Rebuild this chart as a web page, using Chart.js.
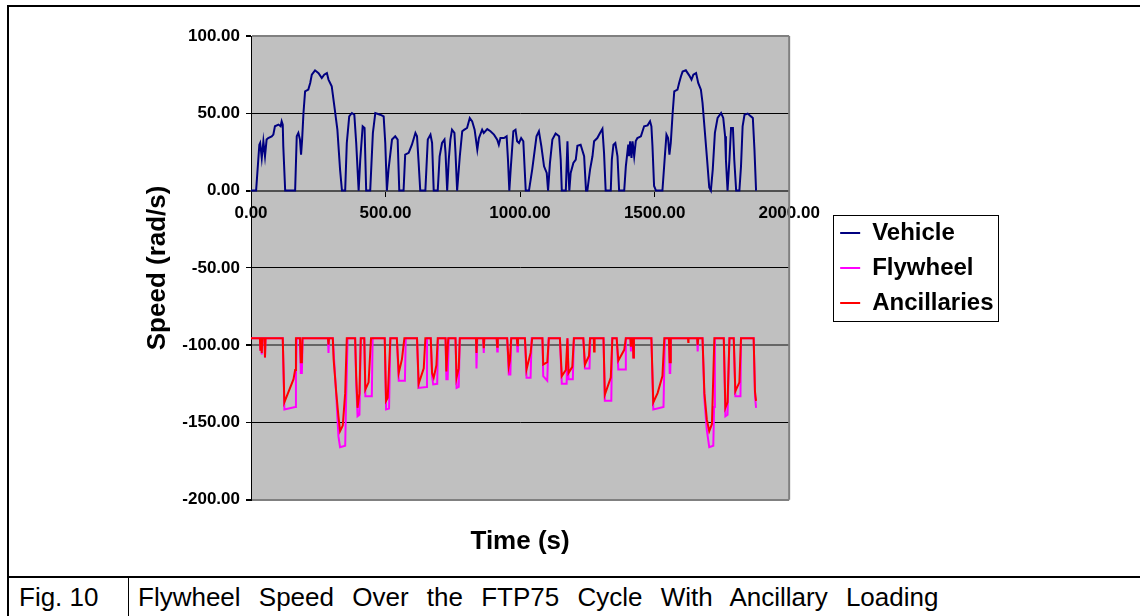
<!DOCTYPE html>
<html>
<head>
<meta charset="utf-8">
<script src="https://cdn.jsdelivr.net/npm/chart.js@4/dist/chart.umd.min.js"></script>
<style>
body{margin:0;width:1140px;height:616px;overflow:hidden;background:#fff;font-family:"Liberation Sans",Arial,sans-serif;position:relative}
#frame{position:absolute;left:7px;top:5px;width:1140px;height:620px;border-left:2px solid #000;border-top:2px solid #000}
#capline{position:absolute;left:7px;top:576px;width:1140px;border-top:2px solid #000}
#capdiv{position:absolute;left:128px;top:577px;height:40px;border-left:1px solid #000}
.cap{position:absolute;top:582px;line-height:30px;font-size:26px;color:#000;white-space:nowrap}
#chart{position:absolute;left:0;top:0}
</style>
</head>
<body>
<div id="frame"></div>
<div id="capline"></div>
<div id="capdiv"></div>
<div class="cap" style="left:19px">Fig. 10</div>
<div class="cap" style="left:138px;word-spacing:11px">Flywheel Speed Over the FTP75 Cycle With Ancillary Loading</div>
<canvas id="chart" width="1140" height="577"></canvas>
<script>
// [time s, speed rad/s]
var vehicle = [[0,0],[19,0],[31,29.7],[34,30.8],[40,21.1],[46,31.9],[52,22.2],[58,33],[64,34],[77,35.1],[83,36.2],[89,41.6],[102,42.7],[110,41.6],[114,44.8],[118,42.7],[120,28.7],[127,0],
  [164,0],[170,35.1],[176,37.3],[182,33],[186,23.3],[190,33],[195,50.2],[201,64.2],[213,65.3],[220,69.6],[226,75],[238,77.8],[251,76],[263,72.8],[272,75],[282,76],[288,71.8],[300,67.5],[313,50.2],[321,39.4],[331,13.6],[338,0],
  [350,0],[356,30.8],[365,48],[375,50.2],[384,49.1],[391,30.8],[400,0],[406,20],[415,41.6],[422,40.5],[428,0],[443,0],[453,37.3],[462,50.2],[480,49.1],[493,48],[499,30.8],[505,0],
  [511,13.6],[524,33],[536,35.1],[545,33],[551,0],[567,0],[573,23.3],[586,24.4],[598,29.7],[611,37.3],[617,35.1],[623,17.9],[629,0],[648,0],[657,33],[667,36.2],[673,30.8],[679,0],
  [694,0],[701,22.2],[710,30.8],[719,33],[723,24.4],[729,0],[735,20],[741,33],[747,39.4],[756,37.3],[760,24.4],[766,0],[776,22.2],[785,38.4],[793,39.4],[803,40.5],[813,47],[822,44.8],[831,39.4],[841,26.5],[847,34],[859,39.4],[865,37.3],[878,39.8],[890,38.4],[903,36.2],[915,33],[921,29.7],[927,34],[940,34],[950,35.1],[955,20],[960,0],
  [965,13.6],[975,38.4],[983,39.4],[989,31.9],[996,30.8],[1004,34],[1012,31.9],[1021,0],[1033,0],[1045,13.6],[1061,35.1],[1070,38.4],[1079,28.7],[1089,15.7],[1099,11.4],[1104,0],
  [1111,17.9],[1120,33],[1132,36.9],[1145,35.1],[1151,20],[1155,0],[1170,0],[1176,31.9],[1180,11.4],[1183,0],[1188,11.4],[1198,17.9],[1207,20],[1213,29],[1225,29.7],[1238,22.2],[1245,0],
  [1250,0],[1260,13.6],[1269,22.2],[1275,31.9],[1287,34],[1297,37.3],[1306,40],[1312,24.4],[1318,0],[1337,0],[1341,20],[1347,29.7],[1354,30.8],[1362,22.2],[1368,0],
  [1387,0],[1393,15.7],[1402,29.7],[1405,22.2],[1409,31.9],[1414,21.1],[1418,31.9],[1424,22.2],[1430,32],[1436,34],[1449,35.1],[1455,38.4],[1461,41.6],[1474,42.2],[1483,44.8],[1488,41.6],[1492,28.7],[1498,3],[1505,0],
  [1529,0],[1538,22.2],[1544,36.2],[1550,34],[1555,23.3],[1560,30.8],[1567,50.2],[1573,64.2],[1585,65.3],[1591,69.6],[1598,74],[1604,77],[1616,77.8],[1629,74.4],[1637,71.8],[1644,75],[1654,76],[1662,69.6],[1672,65.3],[1678,56.7],[1685,41.6],[1695,20],[1703,2],[1709,0],
  [1716,13.6],[1724,37.3],[1734,47],[1747,50.2],[1755,47],[1762,35.1],[1765,20],[1771,0],[1778,20],[1784,40.5],[1791,40.5],[1796,20],[1803,0],[1815,0],[1821,15.7],[1827,41.6],[1834,49],[1846,49.8],[1858,48],[1865,47],[1871,26.5],[1877,0]];

var flywheel = [[0,-95.5],[33,-95.5],[35,-103],[37,-95.5],[38,-95.5],[40,-106],[42,-95.5],[50,-95.5],[52,-108],[54,-95.5],
  [118,-95.5],[124,-141.6],[164,-140],[167,-120],[170,-95.5],[182,-95.5],[185,-118],[189,-118],[192,-95.5],[286,-95.5],[288,-105],[290,-95.5],
  [304,-95.5],[317,-133],[325,-159],[331,-166],[350,-165],[354,-131],[359,-95.5],[387,-95.5],[391,-125],[396,-146],[403,-145],[408,-95.5],
  [421,-95.5],[425,-133],[449,-133],[452,-95.5],[497,-95.5],[502,-141.6],[513,-141],[518,-95.5],[542,-95.5],[549,-123],[572,-123],[575,-95.5],
  [617,-95.5],[623,-127.6],[651,-127],[654,-95.5],[668,-95.5],[673,-120],[677,-125.4],[692,-125],[695,-95.5],[723,-95.5],[726,-122],[731,-122],[735,-95.5],
  [760,-95.5],[764,-127.6],[772,-127],[776,-95.5],[836,-95.5],[838,-115],[841,-95.5],[863,-95.5],[865,-105],[867,-95.5],[913,-95.5],[915,-104],[917,-95.5],
  [952,-95.5],[958,-119],[964,-119],[967,-95.5],[988,-95.5],[990,-104],[992,-95.5],[1018,-95.5],[1024,-121],[1039,-121],[1043,-95.5],
  [1083,-95.5],[1086,-120],[1101,-123],[1106,-95.5],[1148,-95.5],[1155,-125],[1173,-125],[1176,-95.5],[1177,-95.5],[1180,-122],[1196,-122],[1200,-95.5],
  [1235,-95.5],[1241,-115],[1258,-115],[1261,-95.5],[1310,-95.5],[1315,-136],[1339,-136],[1342,-95.5],[1359,-95.5],[1365,-115.7],[1390,-115.7],[1393,-95.5],
  [1410,-95.5],[1412,-104],[1414,-95.5],[1419,-95.5],[1421,-108],[1423,-95.5],[1488,-95.5],[1495,-141.6],[1533,-140],[1538,-95.5],[1553,-95.5],[1556,-118],[1558,-118],[1561,-95.5],
  [1658,-95.5],[1660,-104],[1662,-95.5],[1678,-95.5],[1685,-135],[1694,-155],[1703,-166],[1718,-165],[1721,-140],[1724,-95.5],
  [1757,-95.5],[1763,-146],[1771,-145],[1778,-95.5],[1794,-95.5],[1800,-133],[1819,-133],[1821,-95.5],[1868,-95.5],[1873,-133],[1877,-140.5]];

var ancillaries = [[0,-95.5],[33,-95.5],[35,-103],[37,-95.5],[38,-95.5],[40,-105],[42,-95.5],[50,-95.5],[52,-108],[54,-95.5],
  [118,-95.5],[124,-137],[158,-122],[164,-116],[167,-95.5],[182,-95.5],[185,-111],[189,-111],[191,-95.5],[286,-95.5],[288,-99.7],[290,-95.5],
  [304,-95.5],[307,-109],[317,-131],[325,-146],[331,-155.6],[341,-152],[350,-131],[356,-95.5],[387,-95.5],[391,-120],[396,-140.5],[403,-131],[408,-95.5],
  [421,-95.5],[425,-128.7],[437,-124],[446,-95.5],[497,-95.5],[502,-136],[508,-134],[518,-95.5],[542,-95.5],[549,-118],[561,-109],[570,-95.5],
  [617,-95.5],[623,-125],[642,-115],[648,-95.5],[668,-95.5],[673,-118],[679,-121],[689,-113],[694,-95.5],[723,-95.5],[726,-117],[733,-95.5],
  [760,-95.5],[764,-121],[772,-115],[776,-95.5],[836,-95.5],[838,-105],[840,-95.5],[863,-95.5],[865,-102],[867,-95.5],[913,-95.5],[915,-101],[917,-95.5],
  [952,-95.5],[958,-113.6],[962,-110],[967,-95.5],[988,-95.5],[990,-100],[992,-95.5],[1018,-95.5],[1024,-115.7],[1039,-105],[1045,-95.5],
  [1083,-95.5],[1086,-112.5],[1101,-111],[1107,-95.5],[1148,-95.5],[1155,-120],[1170,-116],[1176,-95.5],[1177,-95.5],[1180,-118],[1194,-114],[1200,-95.5],
  [1235,-95.5],[1241,-112.5],[1256,-107],[1260,-95.5],[1274,-95.5],[1275,-104],[1277,-95.5],[1310,-95.5],[1315,-132],[1337,-121],[1343,-95.5],
  [1359,-95.5],[1365,-110],[1387,-103],[1393,-95.5],[1410,-95.5],[1412,-101],[1414,-95.5],[1419,-95.5],[1421,-108],[1423,-95.5],
  [1488,-95.5],[1495,-137],[1511,-131],[1529,-120],[1536,-95.5],[1553,-95.5],[1556,-111],[1558,-111],[1560,-95.5],[1624,-95.5],[1625,-98],[1626,-95.5],
  [1658,-95.5],[1660,-100],[1662,-95.5],[1678,-95.5],[1685,-131],[1694,-148],[1703,-155.6],[1713,-151],[1722,-95.5],
  [1757,-95.5],[1763,-140.5],[1771,-137],[1778,-95.5],[1794,-95.5],[1800,-129.7],[1815,-124],[1821,-95.5],[1868,-95.5],[1873,-130],[1877,-136]];

var seriesNames = ['Vehicle', 'Flywheel', 'Ancillaries'];
var seriesColors = ['#000080', '#FF00FF', '#FF0000'];

function pts(arr) {
  return arr.map(function (p) { return {x: p[0], y: p[1]}; });
}

var FONT = '"Liberation Sans", Arial, sans-serif';

// grey plot area + frame, and a box round the legend
var plotArea = {
  id: 'plotArea',
  beforeDraw: function (chart) {
    var a = chart.chartArea, ctx = chart.ctx;
    ctx.save();
    ctx.fillStyle = '#C0C0C0';
    ctx.fillRect(a.left, a.top, a.right - a.left, a.bottom - a.top);
    ctx.restore();
  },
  beforeDatasetsDraw: function (chart) {
    var a = chart.chartArea, ctx = chart.ctx;
    ctx.save();
    ctx.strokeStyle = '#808080';
    ctx.lineWidth = 2;
    ctx.beginPath();
    ctx.moveTo(a.right, a.top);
    ctx.lineTo(a.right, a.bottom);
    ctx.stroke();
    ctx.restore();
  },
  afterDraw: function (chart) {
    var boxes = chart.legend.legendHitBoxes;
    if (!boxes || !boxes.length) return;
    var l = Infinity, r = -Infinity, t = Infinity, b = -Infinity;
    boxes.forEach(function (h) {
      l = Math.min(l, h.left); r = Math.max(r, h.left + h.width);
      t = Math.min(t, h.top); b = Math.max(b, h.top + h.height);
    });
    var ctx = chart.ctx;
    ctx.save();
    ctx.strokeStyle = '#000';
    ctx.lineWidth = 1;
    ctx.strokeRect(Math.round(l - 7) + 0.5, Math.round(t - 6) + 0.5, Math.round(r - l + 12), Math.round(b - t + 12));
    ctx.restore();
  }
};

new Chart(document.getElementById('chart'), {
  type: 'line',
  data: {
    datasets: [
      {label: seriesNames[0], data: pts(vehicle), borderColor: seriesColors[0], backgroundColor: seriesColors[0], order: 0},
      {label: seriesNames[1], data: pts(flywheel), borderColor: seriesColors[1], backgroundColor: seriesColors[1], order: 2},
      {label: seriesNames[2], data: pts(ancillaries), borderColor: seriesColors[2], backgroundColor: seriesColors[2], order: 1}
    ]
  },
  options: {
    responsive: false,
    animation: false,
    devicePixelRatio: 1,
    elements: {
      line: {borderWidth: 2, tension: 0, fill: false},
      point: {radius: 0, hoverRadius: 0}
    },
    layout: {padding: {top: 36, left: 0, right: 145, bottom: 0}},
    scales: {
      x: {
        type: 'linear',
        min: 0, max: 2000,
        position: {y: 0},
        grid: {drawOnChartArea: false, drawTicks: true, tickLength: 5, color: '#000'},
        border: {color: '#505050', width: 2},
        ticks: {
          stepSize: 500, autoSkip: false, maxRotation: 0, padding: 8, color: '#000',
          font: {family: FONT, size: 17, weight: 'bold'},
          callback: function (v) { return v.toFixed(2); }
        }
      },
      y: {
        min: -200, max: 100,
        afterFit: function (s) { s.width = 251; },
        grid: {
          tickLength: 5,
          tickColor: '#000',
          color: function (c) {
            var v = c.tick.value;
            if (v === 100 || v === -200) return '#808080';
            if (v === -100 || v === 0) return '#666666';
            return '#000';
          },
          lineWidth: function (c) {
            var v = c.tick.value;
            return (v === 100 || v === -200 || v === -100 || v === 0) ? 2 : 1;
          }
        },
        border: {color: '#000', width: 1},
        ticks: {
          stepSize: 50, padding: 6, color: '#000',
          font: {family: FONT, size: 17, weight: 'bold'},
          callback: function (v) { return v.toFixed(2); }
        },
        title: {
          display: true, text: 'Speed (rad/s)', color: '#000',
          font: {family: FONT, size: 26, weight: 'bold'},
          padding: {top: 142, bottom: 0}
        }
      },
      gap: {
        type: 'linear', position: 'right', display: true,
        grid: {display: false}, ticks: {display: false}, border: {display: false},
        afterFit: function (s) { s.width = 40; }
      }
    },
    plugins: {
      legend: {
        position: 'right',
        align: 'center',
        fullSize: false,
        labels: {
          usePointStyle: true, pointStyle: 'line', pointStyleWidth: 20,
          padding: 11, color: '#000',
          font: {family: FONT, size: 24, weight: 'bold'},
          generateLabels: function (chart) {
            return Chart.defaults.plugins.legend.labels.generateLabels(chart).map(function (it) {
              it.strokeStyle = seriesColors[it.datasetIndex];
              it.fillStyle = seriesColors[it.datasetIndex];
              it.lineWidth = 2;
              return it;
            });
          },
          sort: function (a, b) { return a.datasetIndex - b.datasetIndex; }
        }
      },
      title: {
        display: true, position: 'bottom', fullSize: false,
        text: 'Time (s)', color: '#000',
        font: {family: FONT, size: 26, weight: 'bold'},
        padding: {top: 26, bottom: 20}
      },
      tooltip: {enabled: false}
    }
  },
  plugins: [plotArea]
});
</script>
</body>
</html>
